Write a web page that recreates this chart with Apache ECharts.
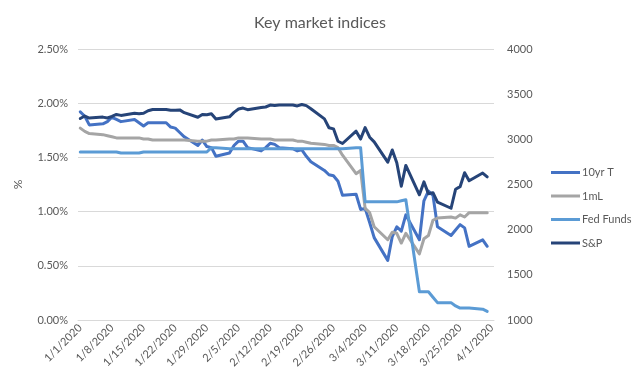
<!DOCTYPE html>
<html>
<head>
<meta charset="utf-8">
<script src="https://cdn.jsdelivr.net/npm/echarts@6/dist/echarts.min.js"></script>
<style>
html,body{margin:0;padding:0;background:#fff;}
#chart{width:640px;height:384px;}
</style>
</head>
<body>
<div id="chart"></div>
<script>
// Trading-day values (weekdays from 1/1/2020 to 4/1/2020, in order)
const tenYrT = [
  1.92, 1.88, 1.80, 1.81, 1.83, 1.87, 1.85, 1.83, 1.85, 1.82, 1.79, 1.82, 1.82, 1.82, 1.78, 1.77, 1.73, 1.69, 1.61, 1.66, 1.60, 1.59, 1.51,
  1.54, 1.61, 1.65, 1.65, 1.59, 1.56, 1.59, 1.63, 1.62, 1.59, 1.58, 1.56, 1.57, 1.51, 1.46, 1.38, 1.34, 1.33, 1.28, 1.15,
  1.16, 1.02, 1.03, 0.90, 0.76, 0.55, 0.77, 0.86, 0.82, 0.97, 0.74, 1.10, 1.19, 1.15, 0.86, 0.78, 0.83, 0.88, 0.85, 0.68, 0.74, 0.68,
  null
];
const oneML = [
  1.77, 1.74, 1.72, 1.71, 1.70, 1.69, 1.68, 1.68, 1.68, 1.68, 1.67, 1.67, 1.66, 1.66, 1.66, 1.66, 1.66, 1.66, 1.65, 1.65, 1.65, 1.66, 1.66,
  1.67, 1.67, 1.68, 1.68, 1.68, 1.67, 1.67, 1.67, 1.66, 1.66, 1.66, 1.65, 1.65, 1.64, 1.63, 1.62, 1.61, 1.61, 1.59, 1.52,
  1.35, 1.38, 1.03, 0.99, 0.86, 0.74, 0.81, 0.80, 0.71, 0.80, 0.61, 0.75, 0.78, 0.92, 0.94, 0.95, 0.94, 0.97, 0.95, 0.99, 0.99, 0.99,
  null
];
const fedFunds = [
  1.55, 1.55, 1.55, 1.55, 1.55, 1.55, 1.55, 1.54, 1.54, 1.54, 1.55, 1.55, 1.55, 1.55, 1.55, 1.55, 1.55, 1.55, 1.55, 1.55, 1.55, 1.59, 1.59,
  1.58, 1.58, 1.58, 1.58, 1.58, 1.58, 1.58, 1.58, 1.58, 1.58, 1.58, 1.58, 1.58, 1.58, 1.58, 1.58, 1.58, 1.58, 1.58, 1.58,
  1.59, 1.59, 1.09, 1.09, 1.09, 1.09, 1.09, 1.09, 1.10, 1.11, 0.26, 0.26, 0.26, 0.21, 0.16, 0.16, 0.13, 0.11, 0.11, 0.11, 0.10, 0.08,
  null
];
const sp500 = [
  3231, 3258, 3235, 3246, 3237, 3253, 3275, 3265, 3288, 3283, 3289, 3317, 3330, 3330, 3321, 3322, 3326, 3295, 3244, 3276, 3273, 3284, 3226,
  3249, 3298, 3335, 3346, 3328, 3352, 3358, 3379, 3374, 3380, 3380, 3370, 3386, 3373, 3338, 3226, 3128, 3116, 2979, 2954,
  3090, 3003, 3130, 3024, 2972, 2747, 2882, 2741, 2481, 2711, 2386, 2529, 2398, 2409, 2305, 2237, 2447, 2476, 2630, 2541, 2627, 2585,
  null
];
const seriesNames = ['10yr T', '1mL', 'Fed Funds', 'S&P'];
const startDay = [2020, 0, 1];
const dayCount = 92; // 1/1/2020 .. 4/1/2020

// calendar categories and weekday slots
const categories = [];
const weekdaySlots = [];
for (let i = 0; i < dayCount; i++) {
  const d = new Date(startDay[0], startDay[1], startDay[2] + i);
  categories.push((d.getMonth() + 1) + '/' + d.getDate() + '/' + d.getFullYear());
  const wd = d.getDay();
  if (wd !== 0 && wd !== 6) weekdaySlots.push(i);
}
function spread(vals) {
  const out = new Array(dayCount).fill(null);
  weekdaySlots.forEach((slot, k) => { out[slot] = vals[k] === undefined ? null : vals[k]; });
  return out;
}

const txt = '#595959';
const font = 'Lato, "Liberation Sans", sans-serif';
function line(name, vals, color, yIndex) {
  return {
    name: name, type: 'line', data: spread(vals), yAxisIndex: yIndex,
    connectNulls: true, showSymbol: false, symbol: 'none', animation: false,
    lineStyle: { color: color, width: 3, cap: 'round', join: 'round' },
    itemStyle: { color: color }
  };
}

const chart = echarts.init(document.getElementById('chart'), null, { renderer: 'canvas' });
chart.setOption({
  animation: false,
  backgroundColor: '#fff',
  title: {
    text: 'Key market indices', left: 'center', top: 10,
    textStyle: { color: txt, fontSize: 16, fontWeight: 'normal', fontFamily: font }
  },
  legend: {
    orient: 'vertical', left: 546, top: 162, itemWidth: 29, itemHeight: 3, itemGap: 12.5,
    icon: 'rect',
    textStyle: { color: txt, fontSize: 11, fontFamily: font, padding: [0, 0, 0, -3] },
    data: seriesNames
  },
  grid: { left: 78, right: 146, top: 49, bottom: 64, containLabel: false },
  xAxis: {
    type: 'category', data: categories, boundaryGap: true,
    axisLine: { lineStyle: { color: '#d9d9d9' } },
    axisTick: { show: false },
    axisLabel: { interval: 6, rotate: 45, color: txt, fontSize: 11, fontFamily: font, margin: 6 },
    splitLine: { show: false }
  },
  yAxis: [
    {
      type: 'value', min: 0, max: 2.5, interval: 0.5,
      name: '%', nameLocation: 'middle', nameRotate: 90, nameGap: 54,
      nameTextStyle: { color: txt, fontSize: 12, fontFamily: font },
      axisLine: { show: false }, axisTick: { show: false },
      axisLabel: { color: txt, fontSize: 11, fontFamily: font, margin: 10, formatter: v => v.toFixed(2) + '%' },
      splitLine: { lineStyle: { color: '#d9d9d9' } }
    },
    {
      type: 'value', min: 1000, max: 4000, interval: 500, position: 'right',
      axisLine: { show: false }, axisTick: { show: false },
      axisLabel: { color: txt, fontSize: 11, fontFamily: font, margin: 13, formatter: v => String(v) },
      splitLine: { show: false }
    }
  ],
  series: [
    line(seriesNames[0], tenYrT, '#4472C4', 0),
    line(seriesNames[1], oneML, '#A5A5A5', 0),
    line(seriesNames[2], fedFunds, '#5B9BD5', 0),
    line(seriesNames[3], sp500, '#264478', 1)
  ]
});
</script>
</body>
</html>
